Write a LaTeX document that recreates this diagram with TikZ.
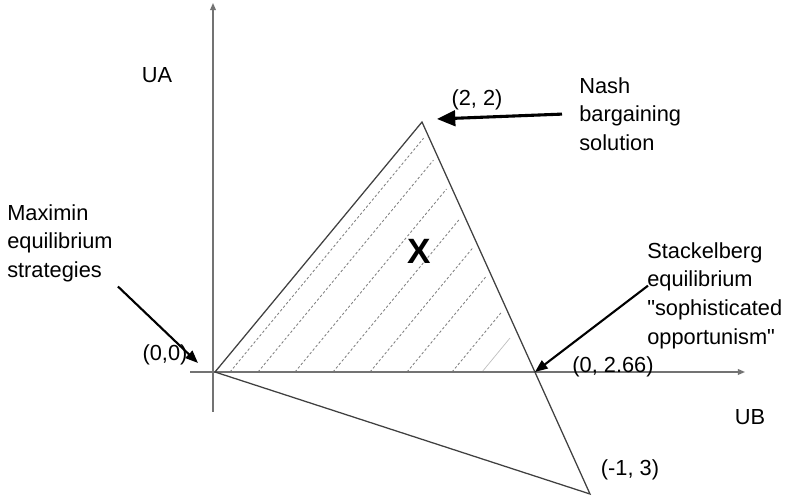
\documentclass[tikz,border=0pt]{standalone}
\usepackage{fontspec}
\setmainfont{Liberation Sans}
\usetikzlibrary{arrows.meta,calc}
\tikzset{
    axis/.style={draw=black!55,line width=1pt,-{Triangle[length=5pt,width=4pt]}},
    edge/.style={draw=black!75,line width=0.9pt},
    hatch/.style={draw=black!50,line width=0.6pt,dash pattern=on 1.8pt off 1.5pt},
    callout/.style={draw=black,line width=1.5pt,-{Triangle[length=9pt,width=7pt]}},
    lbl/.style={font=\fontsize{15.5}{20.5}\selectfont,inner sep=0pt},
    note/.style={lbl,align=left,anchor=north west}
}
\begin{document}
\begin{tikzpicture}[x=0.025cm,y=0.025cm]
    \useasboundingbox (0,0) rectangle (790,499);
    \coordinate (O) at (215,127);
    \coordinate (T) at (422,377);
    \coordinate (B) at (590,5);
    \coordinate (xend) at (745,127);
    \coordinate (C) at (intersection of T--B and O--xend);
    % hatching
    \foreach \s in {230,258,295,333,370,407,452} {
        \pgfmathsetmacro\fr{(534.9-\s)/319.9-0.018}
        \draw[hatch] (\s,127) -- ++(207*\fr,250*\fr);
    }
    \draw[draw=black!25,line width=0.5pt] (482,127) -- ++(28,34);
    % axes
    \draw[axis] (190,127) -- (xend);
    \draw[axis] (213,87) -- (213,496);
    \draw[edge] (O)--(T)--(B)--cycle;
    \node[lbl] (ua) at (157,424) {UA};
    \node[lbl] (ub) at (750,82) {UB};
    \node[lbl] (top) at (477,399) {(2, 2)};
    \node[lbl] (orig) at (165,144) {(0,0)};
    \node[lbl] (cross) at (613,132) {(0, 2.66)};
    \node[lbl] (low) at (630,29) {(-1, 3)};
    \node[font=\fontsize{25}{25}\selectfont\bfseries,inner sep=0pt] (x) at (419,248) {X};
    \node[note] (nash) at (579,422) {Nash\\bargaining\\solution};
    \node[note] (maximin) at (7,295) {Maximin\\equilibrium\\strategies};
    \node[note] (stack) at (647,257) {Stackelberg\\equilibrium\\\textquotedbl sophisticated\\opportunism\textquotedbl};
    \draw[callout,line width=2.2pt,-{Triangle[length=13pt,width=11pt]}] ([shift={(-17,0)}]nash.west) -- ([shift={(15,3)}]T);
    \draw[callout] ([shift={(5,-4)}]maximin.south east) -- ([shift={(-17,9)}]O);
    \draw[callout] ([shift={(1,10)}]stack.west) -- (C);
\end{tikzpicture}
\end{document}
